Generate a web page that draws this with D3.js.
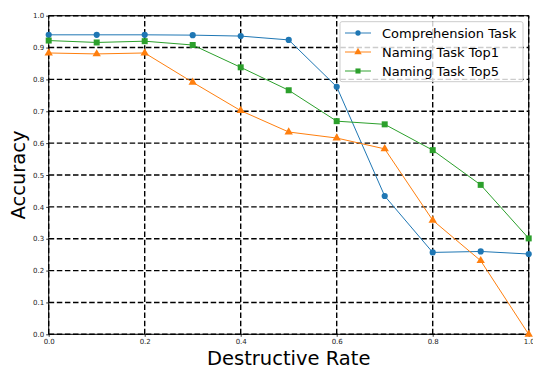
<!DOCTYPE html>
<html>
<head>
<meta charset="utf-8">
<script src="https://cdn.jsdelivr.net/npm/d3@7"></script>
<style>
  body { margin: 0; background: #fff; }
  svg { display: block; font-family: "DejaVu Sans", sans-serif; }
</style>
</head>
<body>
<div id="viz"></div>
<script>
var width = 533, height = 367;
var margin = {left: 48.7, right: 4.3, top: 15.7, bottom: 32.7};

var rates = [0.0, 0.1, 0.2, 0.3, 0.4, 0.5, 0.6, 0.7, 0.8, 0.9, 1.0];
var comprehension = [0.940, 0.940, 0.940, 0.939, 0.936, 0.924, 0.777, 0.434, 0.257, 0.260, 0.252];
var namingTop1 = [0.883, 0.880, 0.883, 0.791, 0.702, 0.635, 0.616, 0.582, 0.358, 0.231, 0.0];
var namingTop5 = [0.922, 0.916, 0.920, 0.908, 0.838, 0.766, 0.669, 0.659, 0.578, 0.469, 0.301];
var xTicks = [0, 0.2, 0.4, 0.6, 0.8, 1.0];
var yTicks = [0, 0.1, 0.2, 0.3, 0.4, 0.5, 0.6, 0.7, 0.8, 0.9, 1.0];

var series = [
  {name: "Comprehension Task", values: comprehension, color: "#1f77b4", marker: "circle"},
  {name: "Naming Task Top1", values: namingTop1, color: "#ff7f0e", marker: "triangle"},
  {name: "Naming Task Top5", values: namingTop5, color: "#2ca02c", marker: "square"}
];

var svg = d3.select('#viz').append('svg')
  .attr('width', width)
  .attr('height', height);

var x = d3.scaleLinear().domain([0, 1]).range([margin.left, width - margin.right]);
var y = d3.scaleLinear().domain([0, 1]).range([height - margin.bottom, margin.top]);

// grid
svg.append('g').selectAll('line.gx')
  .data(xTicks).enter().append('line')
  .attr('x1', d => x(d)).attr('x2', d => x(d))
  .attr('y1', y(0)).attr('y2', y(1))
  .attr('stroke', '#000').attr('stroke-width', 1.4).attr('stroke-dasharray', '5.5,2.6');
svg.append('g').selectAll('line.gy')
  .data(yTicks).enter().append('line')
  .attr('x1', x(0)).attr('x2', x(1))
  .attr('y1', d => y(d)).attr('y2', d => y(d))
  .attr('stroke', '#000').attr('stroke-width', 1.4).attr('stroke-dasharray', '5.5,2.6');

// axes
var xAxis = svg.append('g')
  .attr('transform', 'translate(0,' + y(0) + ')')
  .call(d3.axisBottom(x).tickValues(xTicks).tickFormat(d3.format('.1f')).tickSize(2.5).tickPadding(2.5));
var yAxis = svg.append('g')
  .attr('transform', 'translate(' + x(0) + ',0)')
  .call(d3.axisLeft(y).tickValues(yTicks).tickFormat(d3.format('.1f')).tickSize(2.5).tickPadding(2));
[xAxis, yAxis].forEach(function(a) {
  a.select('.domain').remove();
  a.selectAll('text').attr('font-size', '7px').attr('fill', '#222').attr('font-family', '"DejaVu Sans", sans-serif');
  a.selectAll('line').attr('stroke', '#000').attr('stroke-width', 0.8);
});

// spines
svg.append('rect')
  .attr('x', x(0)).attr('y', y(1))
  .attr('width', x(1) - x(0)).attr('height', y(0) - y(1))
  .attr('fill', 'none').attr('stroke', '#000').attr('stroke-width', 1);

// lines + markers
var line = d3.line().x((d, i) => x(rates[i])).y(d => y(d));
var sym = {
  circle: d3.symbol().type(d3.symbolCircle).size(30),
  triangle: d3.symbol().type(d3.symbolTriangle).size(30),
  square: d3.symbol().type(d3.symbolSquare).size(36)
};
var legSym = {
  circle: d3.symbol().type(d3.symbolCircle).size(22),
  triangle: d3.symbol().type(d3.symbolTriangle).size(24),
  square: d3.symbol().type(d3.symbolSquare).size(26)
};

series.forEach(function(s) {
  svg.append('path')
    .datum(s.values)
    .attr('d', line)
    .attr('fill', 'none')
    .attr('stroke', s.color)
    .attr('stroke-width', 1);
  svg.append('g').selectAll('path')
    .data(s.values).enter().append('path')
    .attr('d', sym[s.marker])
    .attr('transform', (d, i) => 'translate(' + x(rates[i]) + ',' + y(d) + ')')
    .attr('fill', s.color);
});

// legend
var legend = svg.append('g');
legend.append('rect')
  .attr('x', 340).attr('y', 21.7).attr('width', 183).attr('height', 60)
  .attr('rx', 2).attr('fill', 'rgba(255,255,255,0.8)')
  .attr('stroke', '#ccc').attr('stroke-width', 1);
series.forEach(function(s, i) {
  var ly = 33 + i * 19;
  legend.append('line')
    .attr('x1', 345).attr('x2', 371).attr('y1', ly).attr('y2', ly)
    .attr('stroke', s.color).attr('stroke-width', 1.6).attr('stroke-opacity', 0.6);
  legend.append('path')
    .attr('d', legSym[s.marker])
    .attr('transform', 'translate(358,' + ly + ')')
    .attr('fill', s.color);
  legend.append('text')
    .attr('x', 382).attr('y', ly + 4.5)
    .attr('font-size', '13px').attr('fill', '#000')
    .text(s.name);
});

// axis titles
svg.append('text')
  .attr('x', (x(0) + x(1)) / 2).attr('y', 364.5)
  .attr('text-anchor', 'middle').attr('font-size', '19.5px')
  .text('Destructive Rate');
svg.append('text')
  .attr('transform', 'translate(25,' + (y(0) + y(1)) / 2 + ') rotate(-90)')
  .attr('text-anchor', 'middle').attr('font-size', '19.5px')
  .text('Accuracy');
</script>
</body>
</html>
